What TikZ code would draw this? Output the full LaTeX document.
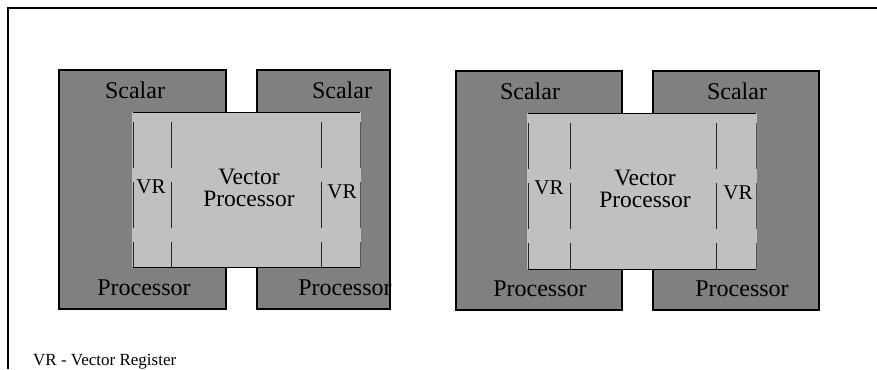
\documentclass[tikz,border=0pt]{standalone}
\usepackage{fontspec}
\setmainfont{Liberation Serif}
\begin{document}
\begin{tikzpicture}[x=1pt,y=-1pt,
  scalarbox/.style={draw=black,line width=1.3pt,fill=scalargray},
  vecfill/.style={fill=vecgray,draw=none},
  edge/.style={draw=black,line width=0.8pt},
  vrline/.style={draw=black!85,line width=0.8pt,dash pattern=on 46pt off 14pt,dash phase=50pt},
  bigtxt/.style={inner sep=0pt,anchor=base,font=\fontsize{24}{21}\selectfont},
  veclabel/.style={inner sep=0pt,anchor=base,align=center,font=\fontsize{23.5}{22}\selectfont},
  vrtxt/.style={inner sep=0pt,anchor=base,font=\fontsize{21}{20}\selectfont}]
\definecolor{scalargray}{HTML}{808080}
\definecolor{vecgray}{HTML}{C0C0C0}
\useasboundingbox (0,0) rectangle (877,369);
\fill[white] (0,0) rectangle (877,369);

% page frame: top and left rules
\coordinate (frameTL) at (8,8);
\coordinate (frameTR) at (877,8);
\coordinate (frameBL) at (8,369);
\draw[line width=1.5pt] (frameBL) -- (frameTL) -- (frameTR);

% scalar processors
\draw[scalarbox] (59,70) rectangle (226,309);
\draw[scalarbox] (257,70) rectangle (390,309);
\draw[scalarbox] (456,71) rectangle (622,310);
\draw[scalarbox] (653,71) rectangle (819,310);

% vector processor spanning the first pair
\fill[vecfill] (132.4,112) rectangle (360.6,267);
\draw[edge] (133,112) -- (360,112);
\draw[edge] (133,267) -- (360,267);
\draw[vrline] (133,112) -- (133,267);
\draw[vrline] (171,112) -- (171,267);
\draw[vrline] (321,112) -- (321,267);
\draw[vrline,draw=black!65] (360,112) -- (360,267);

% vector processor spanning the second pair
\fill[vecfill] (527.4,113) rectangle (756.6,269);
\draw[edge] (528,113) -- (756,113);
\draw[edge] (528,269) -- (756,269);
\draw[vrline] (528,113) -- (528,269);
\draw[vrline] (570,113) -- (570,269);
\draw[vrline] (716,113) -- (716,269);
\draw[vrline,draw=black!65] (756,113) -- (756,269);

% labels
\node[bigtxt] (s1) at (135,98) {Scalar};
\node[bigtxt] (p1) at (144,295) {Processor};
\node[bigtxt] (s2) at (342,98) {Scalar};
\node[bigtxt] (p2) at (345,295) {Processor};
\node[bigtxt] (s3) at (530,99) {Scalar};
\node[bigtxt] (p3) at (540,296) {Processor};
\node[bigtxt] (s4) at (737,99) {Scalar};
\node[bigtxt] (p4) at (742,296) {Processor};

\node[veclabel] (v1) at (249,206.5) {Vector\\Processor};
\node[veclabel] (v2) at (645,207.5) {Vector\\Processor};

\node[vrtxt] (r1) at (151,193) {VR};
\node[vrtxt] (r2) at (342,198) {VR};
\node[vrtxt] (r3) at (549,194) {VR};
\node[vrtxt] (r4) at (738,199) {VR};

\node[inner sep=0pt,anchor=base west,font=\fontsize{17}{17}\selectfont] (legend) at (33,365) {VR - Vector Register};
\end{tikzpicture}
\end{document}
